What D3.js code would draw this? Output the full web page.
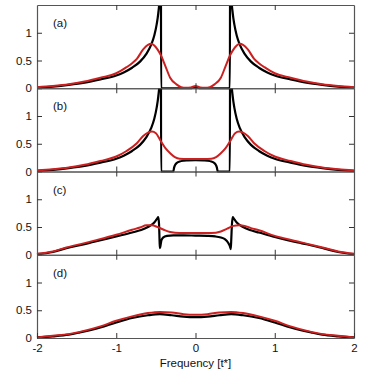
<!DOCTYPE html>
<html>
<head>
<meta charset="utf-8">
<script src="https://cdn.jsdelivr.net/npm/d3@7"></script>
<style>
  body { margin: 0; background: #fff; }
  svg text { font-family: "Liberation Sans", Arial, sans-serif; }
</style>
</head>
<body>
<svg id="chart"></svg>
<script>
// Four stacked spectral panels (a)-(d), black vs red curves

const panelLabels = ["(a)", "(b)", "(c)", "(d)"];
const xTicks = [-2, -1, 0, 1, 2];
const yTicks = [0, 0.5, 1];

// [frequency, value] pairs
const blackA = [[-2,0.01],[-1.8,0.03],[-1.6,0.06],[-1.4,0.10],[-1.2,0.16],[-1.0,0.23],[-0.9,0.29],[-0.8,0.37],[-0.7,0.48],[-0.62,0.62],[-0.56,0.78],[-0.52,0.95],[-0.49,1.15],[-0.47,1.35],[-0.455,1.6],[-0.445,2.2],[-0.437,3.0],
  [-0.434,0],[-0.3,0],[-0.1,0],[-0.05,0.003],[0,0.02],[0.05,0.003],[0.1,0],[0.3,0],[0.434,0],
  [0.437,3.0],[0.445,2.2],[0.455,1.6],[0.47,1.35],[0.49,1.15],[0.52,0.95],[0.56,0.78],[0.62,0.62],[0.7,0.48],[0.8,0.37],[0.9,0.29],[1.0,0.23],[1.2,0.16],[1.4,0.10],[1.6,0.06],[1.8,0.03],[2,0.01]];
const redA = [[-2,0.02],[-1.8,0.04],[-1.6,0.07],[-1.4,0.12],[-1.2,0.19],[-1.0,0.27],[-0.87,0.38],[-0.8,0.45],[-0.74,0.53],[-0.66,0.70],[-0.6,0.78],[-0.56,0.80],[-0.52,0.77],[-0.48,0.70],[-0.435,0.59],[-0.38,0.40],[-0.32,0.19],[-0.24,0.07],[-0.18,0.02],[-0.12,0.01],[-0.06,0.015],[0,0.04],
  [0.06,0.015],[0.12,0.01],[0.18,0.02],[0.24,0.07],[0.32,0.19],[0.38,0.40],[0.435,0.59],[0.48,0.70],[0.52,0.77],[0.56,0.80],[0.6,0.78],[0.66,0.70],[0.74,0.53],[0.8,0.45],[0.87,0.38],[1.0,0.27],[1.2,0.19],[1.4,0.12],[1.6,0.07],[1.8,0.04],[2,0.02]];

const blackB = [[-2,0.01],[-1.8,0.03],[-1.6,0.06],[-1.4,0.10],[-1.2,0.16],[-1.0,0.23],[-0.9,0.29],[-0.8,0.37],[-0.7,0.48],[-0.62,0.62],[-0.56,0.78],[-0.52,0.95],[-0.49,1.15],[-0.47,1.35],[-0.455,1.6],[-0.445,2.2],[-0.437,3.0],
  [-0.434,0],[-0.28,0],[-0.27,0.07],[-0.26,0.11],[-0.24,0.15],[-0.2,0.18],[-0.15,0.195],[-0.1,0.2],[0,0.205],[0.1,0.2],[0.15,0.195],[0.2,0.18],[0.24,0.15],[0.26,0.11],[0.27,0.07],[0.28,0],[0.434,0],
  [0.437,3.0],[0.445,2.2],[0.455,1.6],[0.47,1.35],[0.49,1.15],[0.52,0.95],[0.56,0.78],[0.62,0.62],[0.7,0.48],[0.8,0.37],[0.9,0.29],[1.0,0.23],[1.2,0.16],[1.4,0.10],[1.6,0.06],[1.8,0.03],[2,0.01]];
const redB = [[-2,0.02],[-1.8,0.04],[-1.6,0.07],[-1.4,0.12],[-1.2,0.19],[-1.0,0.27],[-0.87,0.37],[-0.74,0.51],[-0.66,0.64],[-0.6,0.70],[-0.55,0.72],[-0.5,0.69],[-0.435,0.54],[-0.38,0.42],[-0.32,0.33],[-0.26,0.26],[-0.2,0.23],[-0.1,0.225],[0,0.225],
  [0.1,0.225],[0.2,0.23],[0.26,0.26],[0.32,0.33],[0.38,0.42],[0.435,0.54],[0.5,0.69],[0.55,0.72],[0.6,0.70],[0.66,0.64],[0.74,0.51],[0.87,0.37],[1.0,0.27],[1.2,0.19],[1.4,0.12],[1.6,0.07],[1.8,0.04],[2,0.02]];

const blackC = [[-2,0.01],[-1.8,0.05],[-1.63,0.12],[-1.4,0.19],[-1.29,0.23],[-1.0,0.33],[-0.8,0.40],[-0.7,0.44],[-0.6,0.50],[-0.52,0.58],[-0.48,0.66],[-0.47,0.68],[-0.46,0.55],[-0.452,0.2],[-0.448,0.12],[-0.44,0.18],[-0.43,0.26],[-0.41,0.31],[-0.36,0.34],[-0.28,0.35],[-0.15,0.35],[0,0.345],
  [0.15,0.34],[0.25,0.33],[0.32,0.31],[0.37,0.28],[0.41,0.22],[0.435,0.15],[0.445,0.1],[0.452,0.3],[0.46,0.55],[0.47,0.68],[0.48,0.66],[0.52,0.58],[0.6,0.50],[0.7,0.44],[0.8,0.40],[1.0,0.32],[1.29,0.22],[1.4,0.19],[1.63,0.11],[1.8,0.05],[2,0.01]];
const redC = [[-2,0.02],[-1.8,0.06],[-1.63,0.13],[-1.4,0.21],[-1.29,0.25],[-1.0,0.36],[-0.8,0.45],[-0.7,0.49],[-0.62,0.53],[-0.55,0.53],[-0.48,0.50],[-0.4,0.45],[-0.32,0.41],[-0.2,0.39],[0,0.39],
  [0.2,0.39],[0.32,0.42],[0.4,0.47],[0.48,0.52],[0.55,0.53],[0.62,0.52],[0.7,0.48],[0.8,0.44],[1.0,0.34],[1.29,0.24],[1.4,0.20],[1.63,0.12],[1.8,0.06],[2,0.02]];

const blackD = [[-2,0.01],[-1.8,0.03],[-1.6,0.06],[-1.46,0.10],[-1.2,0.19],[-1.0,0.28],[-0.8,0.36],[-0.6,0.41],[-0.45,0.43],[-0.3,0.41],[-0.15,0.385],[0,0.375],
  [0.15,0.385],[0.3,0.41],[0.45,0.43],[0.6,0.41],[0.8,0.36],[1.0,0.28],[1.2,0.19],[1.46,0.10],[1.6,0.06],[1.8,0.03],[2,0.01]];
const redD = [[-2,0.01],[-1.8,0.04],[-1.6,0.07],[-1.46,0.11],[-1.2,0.21],[-1.0,0.31],[-0.8,0.39],[-0.6,0.45],[-0.45,0.47],[-0.3,0.46],[-0.15,0.43],[0,0.42],
  [0.15,0.43],[0.3,0.46],[0.45,0.47],[0.6,0.45],[0.8,0.39],[1.0,0.31],[1.2,0.21],[1.46,0.11],[1.6,0.07],[1.8,0.04],[2,0.01]];

const blackSeries = [blackA, blackB, blackC, blackD];
const redSeries = [redA, redB, redC, redD];

const W = 374, H = 374;
const margin = { top: 5, right: 20, bottom: 36, left: 37 };
const width = W - margin.left - margin.right;
const plotH = H - margin.top - margin.bottom;
const panelH = plotH / 4;

const svg = d3.select("#chart").attr("width", W).attr("height", H);

const x = d3.scaleLinear().domain([-2, 2]).range([0, width]);
const y = d3.scaleLinear().domain([0, 1.5]).range([panelH, 0]);

const line = d3.line()
    .x(d => x(d[0]))
    .y(d => y(d[1]))
    .curve(d3.curveMonotoneX);

// clip only the top (curves running off scale), let the baseline stroke show in full
svg.append("defs").append("clipPath")
    .attr("id", "clip")
    .append("rect")
    .attr("x", -2)
    .attr("y", 0)
    .attr("width", width + 4)
    .attr("height", panelH + 2);

panelLabels.forEach((label, i) => {
    const g = svg.append("g")
        .attr("transform", `translate(${margin.left}, ${margin.top + i * panelH})`);

    const curves = g.append("g").attr("clip-path", "url(#clip)");
    curves.append("path")
        .datum(blackSeries[i])
        .attr("fill", "none")
        .attr("stroke", "#000")
        .attr("stroke-width", 2.2)
        .attr("d", line);
    curves.append("path")
        .datum(redSeries[i])
        .attr("fill", "none")
        .attr("stroke", "#cc1f1f")
        .attr("stroke-width", 2)
        .attr("d", line);

    // inward ticks on all four sides
    g.append("g")
        .call(d3.axisLeft(y).tickValues(yTicks).tickSize(-5).tickSizeOuter(0).tickPadding(5).tickFormat(d => d));
    g.append("g")
        .attr("transform", `translate(${width}, 0)`)
        .call(d3.axisRight(y).tickValues([0.5, 1]).tickSize(-5).tickSizeOuter(0).tickFormat(""));
    g.append("g")
        .call(d3.axisTop(x).tickValues([-1, 0, 1]).tickSize(-5).tickSizeOuter(0).tickFormat(""));
    g.append("g")
        .attr("transform", `translate(0, ${panelH})`)
        .call(d3.axisBottom(x).tickValues(i === 3 ? xTicks : [-1, 0, 1]).tickSize(-5).tickSizeOuter(0).tickPadding(6)
            .tickFormat(i === 3 ? d => d : ""));

    g.selectAll(".domain").attr("stroke", "#555").attr("stroke-width", 1.2);
    g.selectAll(".tick line").attr("stroke", "#333");
    g.selectAll(".tick text").attr("font-size", 11.5).attr("fill", "#111");

    g.append("text")
        .attr("x", 16)
        .attr("y", 22)
        .attr("font-size", 11.5)
        .attr("fill", "#111")
        .text(label);
});

svg.append("text")
    .attr("x", margin.left + width / 2)
    .attr("y", 367)
    .attr("text-anchor", "middle")
    .attr("font-size", 11.5)
    .attr("fill", "#111")
    .text("Frequency [t*]");
</script>
</body>
</html>
